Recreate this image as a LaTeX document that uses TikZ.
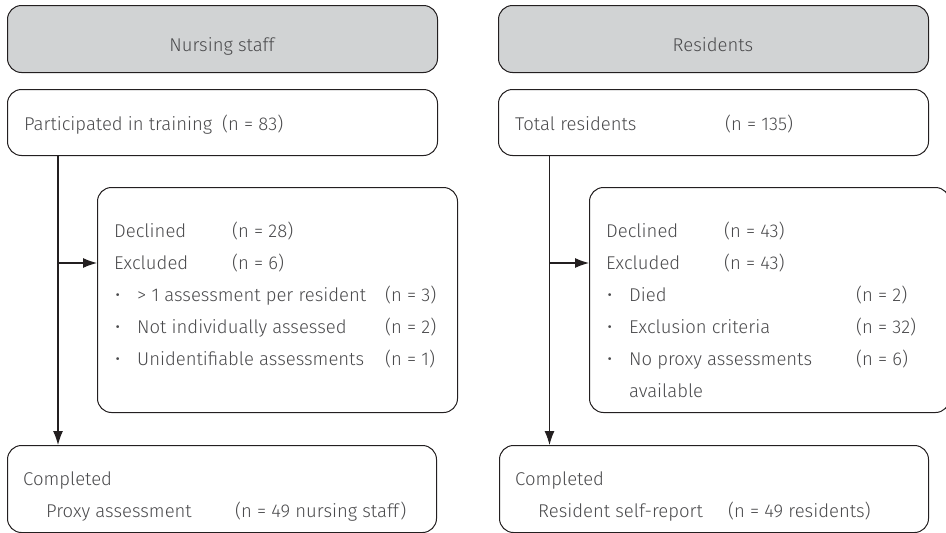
\documentclass[tikz,border=0pt]{standalone}
\usepackage{fontspec}
\setmainfont{Fira Sans}[UprightFont=* Light]
\usetikzlibrary{arrows.meta}
\definecolor{txt}{HTML}{4A4A4C}
\definecolor{hdr}{HTML}{D1D3D4}
\definecolor{ln}{HTML}{231F20}
\begin{document}
\begin{tikzpicture}[x=1pt,y=-1pt,
  box/.style={draw=ln,line width=1pt,rounded corners=14pt,anchor=north west,inner sep=0pt},
  hbox/.style={box,fill=hdr},
  t/.style={anchor=base west,inner sep=0pt,text=txt,font=\fontsize{18.5}{22}\selectfont},
  tc/.style={anchor=base,inner sep=0pt,text=txt,font=\fontsize{18.5}{22}\selectfont},
  arr/.style={draw=ln,line width=1.1pt,-{Latex[length=14pt,width=10pt]}}]
\useasboundingbox (0,0) rectangle (946,533);
% ---------- left column
\node[hbox,minimum width=430pt,minimum height=67pt] (h1) at (7,5) {};
\node[tc] (h1t) at (222,51) {Nursing staff};
\node[box,minimum width=430pt,minimum height=66pt] (b1) at (7,89) {};
\node[t] (b1a) at (24,130) {Participated in training};
\node[t] (b1b) at (222,130) {(n = 83)};
\node[box,minimum width=360pt,minimum height=225pt] (e1) at (97,187) {};
\node[t] (e1a) at (114,237.7) {Declined};
\node[t] (e1b) at (232,237.7) {(n = 28)};
\node[t] (e1c) at (114,269.7) {Excluded};
\node[t] (e1d) at (232,269.7) {(n = 6)};
\node[t] (e1e) at (115,301.5) {•};
\node[t] (e1f) at (137,301.5) {> 1 assessment per resident};
\node[t] (e1g) at (385,301.5) {(n = 3)};
\node[t] (e1h) at (115,333.5) {•};
\node[t] (e1i) at (137,333.5) {Not individually assessed};
\node[t] (e1j) at (385,333.5) {(n = 2)};
\node[t] (e1k) at (115,365.5) {•};
\node[t] (e1l) at (137,365.5) {Unidentifiable assessments};
\node[t] (e1m) at (385,365.5) {(n = 1)};
\node[box,minimum width=429pt,minimum height=87pt] (c1) at (7,445) {};
\node[t] (c1a) at (23,485) {Completed};
\node[t] (c1b) at (46,517) {Proxy assessment};
\node[t] (c1c) at (235,517) {(n = 49 nursing staff)};
\coordinate (v1) at (58,0);
\coordinate (a1) at (0,263);
\draw[arr] (b1.south -| v1) -- (c1.north -| v1);
\draw[arr] (a1 -| v1) -- (a1 -| e1.west);
% ---------- right column
\node[hbox,minimum width=430pt,minimum height=67pt] (h2) at (498,5) {};
\node[tc] (h2t) at (713,51) {Residents};
\node[box,minimum width=430pt,minimum height=66pt] (b2) at (498,89) {};
\node[t] (b2a) at (515,130) {Total residents};
\node[t] (b2b) at (725,130) {(n = 135)};
\node[box,minimum width=360pt,minimum height=225pt] (e2) at (589,187) {};
\node[t] (e2a) at (606,237.7) {Declined};
\node[t] (e2b) at (724,237.7) {(n = 43)};
\node[t] (e2c) at (606,269.7) {Excluded};
\node[t] (e2d) at (724,269.7) {(n = 43)};
\node[t] (e2e) at (607,301.5) {•};
\node[t] (e2f) at (629,301.5) {Died};
\node[t] (e2g) at (856,301.5) {(n = 2)};
\node[t] (e2h) at (607,333.5) {•};
\node[t] (e2i) at (629,333.5) {Exclusion criteria};
\node[t] (e2j) at (856,333.5) {(n = 32)};
\node[t] (e2k) at (607,365.5) {•};
\node[t] (e2l) at (629,365.5) {No proxy assessments};
\node[t] (e2m) at (856,365.5) {(n = 6)};
\node[t] (e2n) at (629,397.5) {available};
\node[box,minimum width=429pt,minimum height=87pt] (c2) at (499,445) {};
\node[t] (c2a) at (515,485) {Completed};
\node[t] (c2b) at (538,517) {Resident self-report};
\node[t] (c2c) at (728,517) {(n = 49 residents)};
\coordinate (v2) at (549.5,0);
\coordinate (a2) at (0,263);
\draw[arr] (b2.south -| v2) -- (c2.north -| v2);
\draw[arr] (a2 -| v2) -- (a2 -| e2.west);
\end{tikzpicture}
\end{document}
